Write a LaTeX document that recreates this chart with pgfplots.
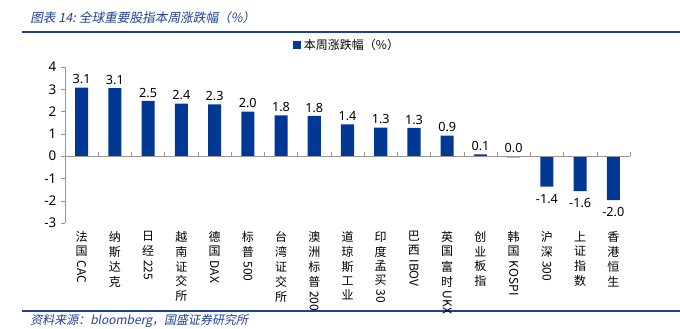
\documentclass[border=0pt]{standalone}
\usepackage{fontspec}
\setmainfont{Noto Sans}
\newfontfamily\cjk{Noto Sans CJK SC}
\newfontfamily\cjkit{Noto Sans CJK SC}[FakeSlant=0.2]
\usepackage{pgfplots}
\pgfplotsset{compat=1.18}
\usepackage{pgfplotstable}
\definecolor{barblue}{RGB}{0,56,147}
\definecolor{titleblue}{RGB}{31,64,150}
\definecolor{axgray}{RGB}{150,150,150}

\pgfplotstableread{
x y
0 3.08
1 3.05
2 2.48
3 2.36
4 2.32
5 2.00
6 1.83
7 1.81
8 1.43
9 1.28
10 1.27
11 0.92
12 0.08
13 -0.05
14 -1.37
15 -1.57
16 -1.97
}\bars
\pgfplotstableread{
x y lab
0 3.08 3.1
1 3.05 3.1
2 2.48 2.5
3 2.36 2.4
4 2.32 2.3
5 2.00 2.0
6 1.83 1.8
7 1.81 1.8
8 1.43 1.4
9 1.28 1.3
10 1.27 1.3
11 0.92 0.9
12 0.08 0.1
13 0.00 0.0
}\labpos
\pgfplotstableread{
x y lab
14 -1.37 -1.4
15 -1.57 -1.6
16 -1.97 -2.0
}\labneg

\newcommand{\vs}[1]{\shortstack[c]{#1}}
\newcommand{\rl}[1]{\rotatebox{-90}{#1}}

\begin{document}
\begin{tikzpicture}
\begin{scope}[x=0.75pt,y=0.75pt]
\path[use as bounding box] (0,0) rectangle (680,328);
\node[anchor=west, text=titleblue, font=\cjkit\fontsize{9.5}{11}\selectfont, inner sep=0pt] at (30,310) {图表 14:\ 全球重要股指本周涨跌幅（\%）};
\draw[titleblue, line width=1.5pt] (22,296) -- (680,296);
\draw[titleblue, line width=1.2pt] (22,17) -- (680,17);
\node[anchor=west, text=titleblue, font=\cjkit\fontsize{9}{11}\selectfont, inner sep=0pt] at (30,7.5) {资料来源：bloomberg，国盛证券研究所};
\end{scope}
\begin{axis}[
  at={(48.75pt,78.75pt)}, anchor=south west,
  scale only axis, width=423.75pt, height=117pt,
  ybar, bar width=9.8pt, bar shift=0pt,
  xmin=-0.5, xmax=16.5, ymin=-3, ymax=4,
  clip=false,
  axis y line*=left, axis x line*=bottom,
  x axis line style={draw=none},
  y axis line style={axgray},
  ytick={-3,-2,-1,0,1,2,3,4},
  ytick style={axgray}, tick align=outside, major tick length=3pt,
  xtick=data, xtick style={draw=none},
  /pgf/number format/assume math mode=true,
  yticklabel style={font=\fontsize{10}{12}\selectfont},
  xticklabel style={font=\cjk\fontsize{9}{10}\selectfont, anchor=north, yshift=-3pt, inner sep=0pt},
  xticklabels={
    {\vs{法\\国\\\rl{CAC}}},
    {\vs{纳\\斯\\达\\克}},
    {\vs{日\\经\\\rl{225}}},
    {\vs{越\\南\\证\\交\\所}},
    {\vs{德\\国\\\rl{DAX}}},
    {\vs{标\\普\\\rl{500}}},
    {\vs{台\\湾\\证\\交\\所}},
    {\vs{澳\\洲\\标\\普\\\rl{200}}},
    {\vs{道\\琼\\斯\\工\\业}},
    {\vs{印\\度\\孟\\买\\\rl{30}}},
    {\vs{巴\\西\\\rl{IBOV}}},
    {\vs{英\\国\\富\\时\\\rl{UKX}}},
    {\vs{创\\业\\板\\指}},
    {\vs{韩\\国\\\rl{KOSPI}}},
    {\vs{沪\\深\\\rl{300}}},
    {\vs{上\\证\\指\\数}},
    {\vs{香\\港\\恒\\生}}
  },
  legend style={at={(0.5,1.14)}, anchor=center, draw=none, fill=none,
    font=\cjk\fontsize{9}{11}\selectfont, inner sep=1pt},
  legend image code/.code={\fill[barblue] (0pt,-3pt) rectangle (6pt,3pt);},
]
\addplot[fill=barblue, draw=none] table[x=x,y=y] {\bars};
\addlegendentry{本周涨跌幅（\%）}
\addplot[draw=none, fill=none, forget plot,
  nodes near coords, point meta=explicit symbolic,
  every node near coord/.append style={font=\fontsize{9.5}{11}\selectfont, inner sep=2.5pt, anchor=south}]
  table[x=x,y=y,meta=lab] {\labpos};
\addplot[draw=none, fill=none, forget plot,
  nodes near coords, point meta=explicit symbolic,
  every node near coord/.append style={font=\fontsize{9.5}{11}\selectfont, inner sep=2.5pt, anchor=north, yshift=-3pt}]
  table[x=x,y=y,meta=lab] {\labneg};
\draw[axgray] (axis cs:-0.5,0) -- (axis cs:16.5,0);
\pgfplotsinvokeforeach{-0.5,0.5,1.5,2.5,3.5,4.5,5.5,6.5,7.5,8.5,9.5,10.5,11.5,12.5,13.5,14.5,15.5,16.5}{
  \draw[axgray] (axis cs:#1,0) -- ++(0pt,3pt);
}
\end{axis}
\end{tikzpicture}
\end{document}
